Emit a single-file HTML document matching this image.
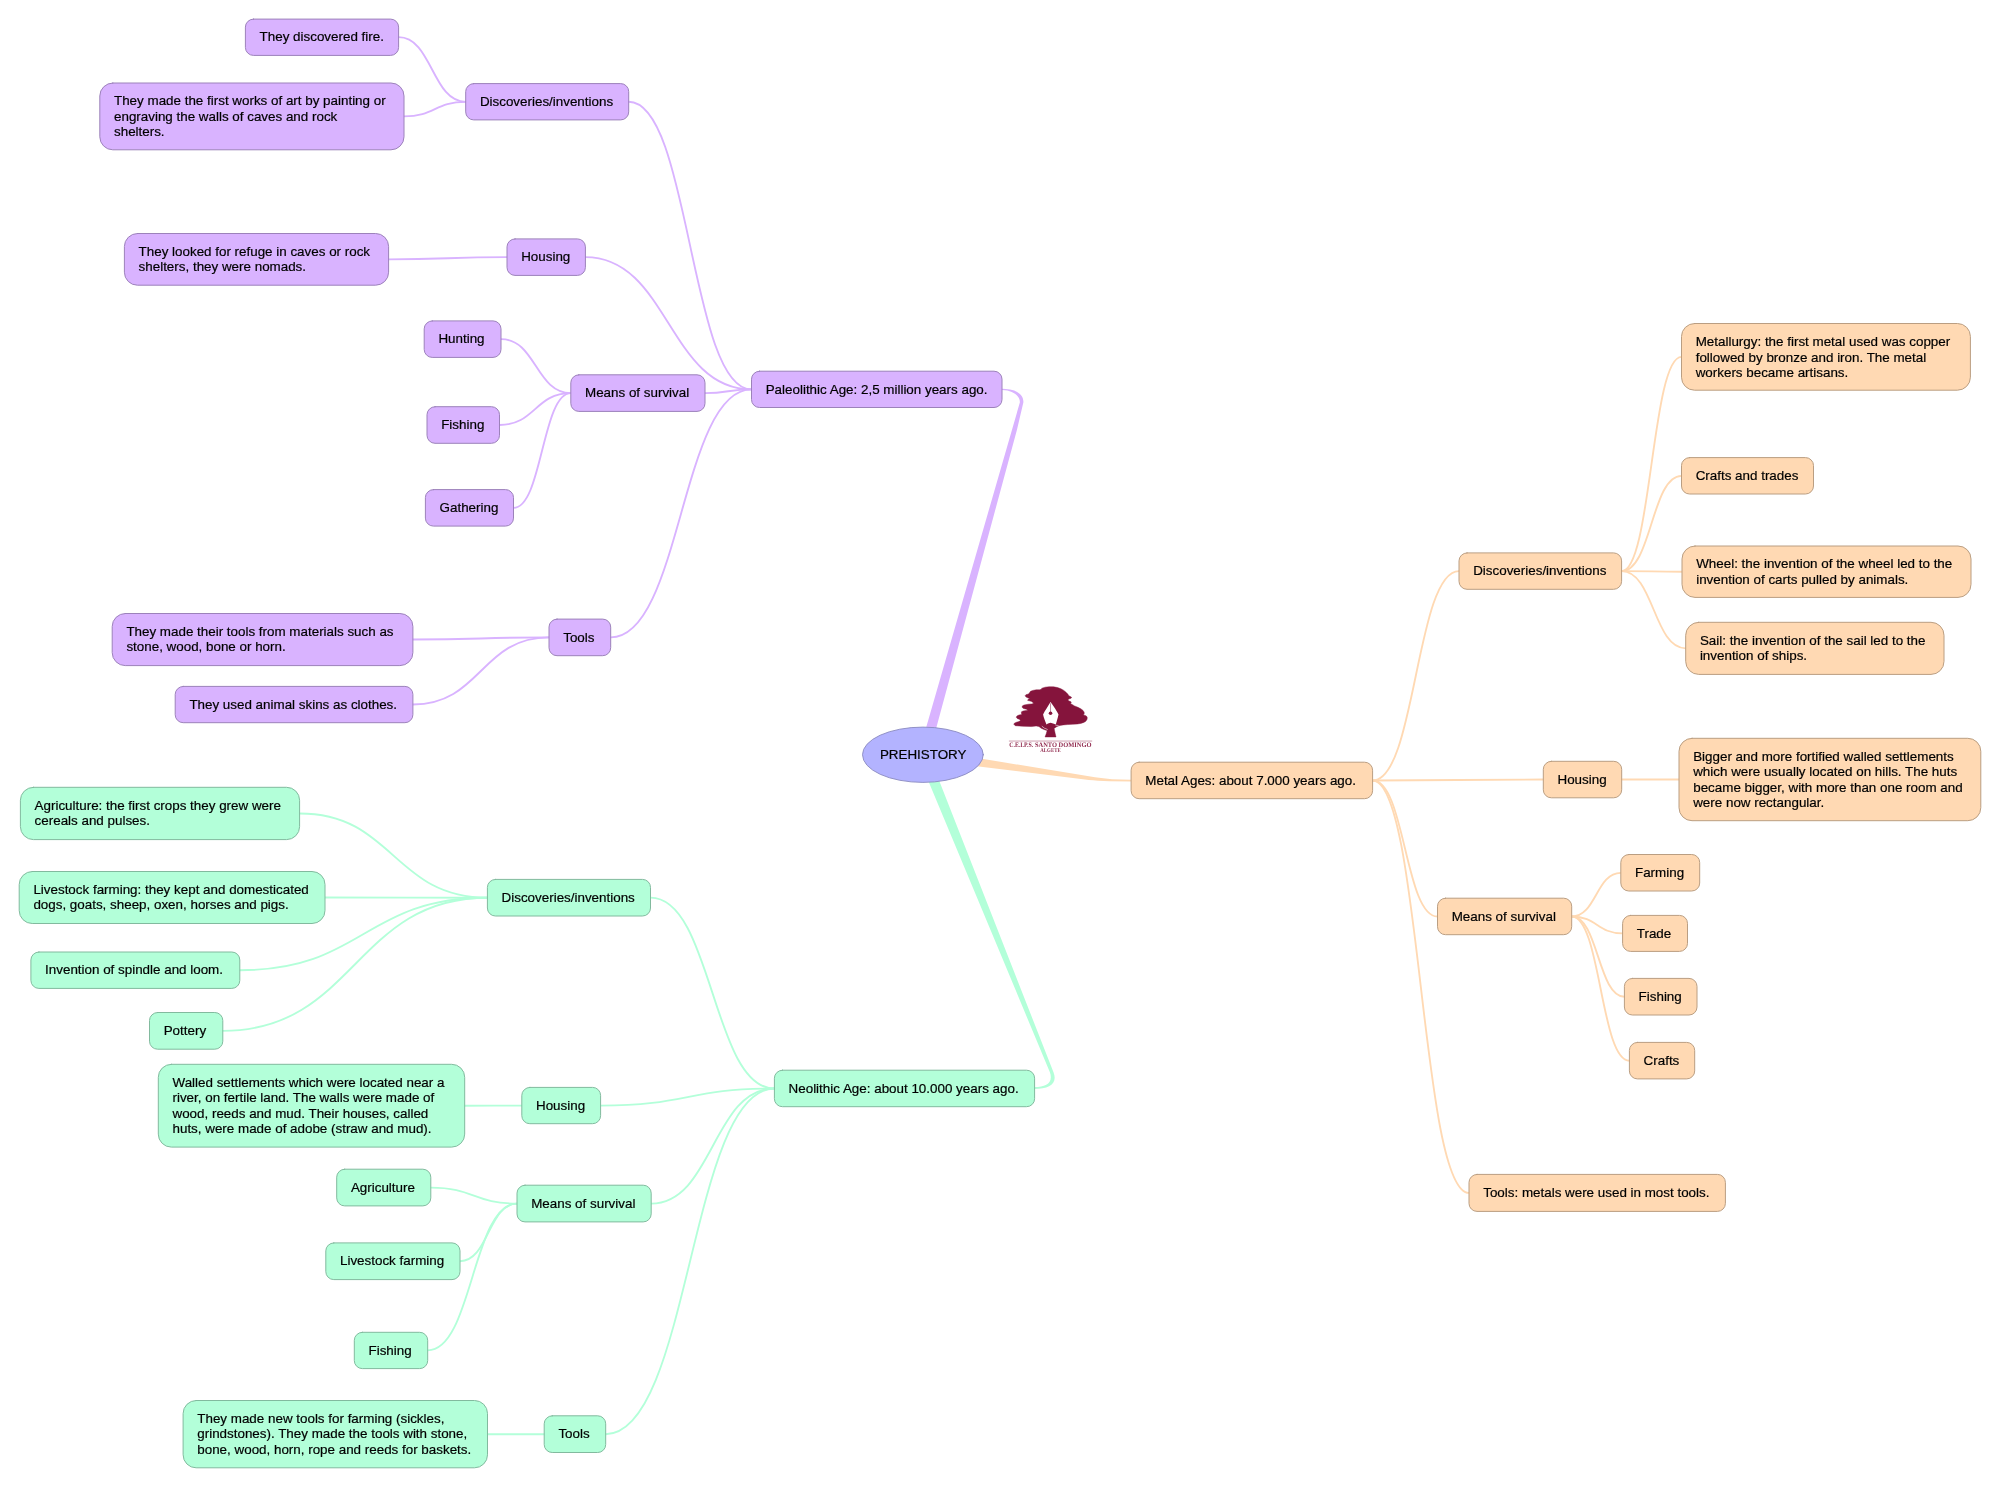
<!DOCTYPE html>
<html lang="en"><head><meta charset="utf-8"><title>PREHISTORY</title>
<style>
html,body{margin:0;padding:0;background:#fff}
#map{position:relative;width:2002px;height:1488px;overflow:hidden;background:#fff;font-family:"Liberation Sans",sans-serif;font-size:13.4px;line-height:15.45px;color:#000}
#map svg{position:absolute;left:0;top:0;will-change:transform}
#labels{position:absolute;left:0;top:0;width:2002px;height:1488px;will-change:transform}
.n{position:absolute;white-space:nowrap}
.l{-webkit-text-stroke:0.2px #000;position:absolute;left:14.2px;line-height:15px;height:15px}
#root{-webkit-text-stroke:0.2px #000;position:absolute;left:862.6px;top:726.5px;width:121.2px;height:56px;text-align:center;line-height:55px;white-space:nowrap}
.lg{font-family:"Liberation Serif",serif;font-weight:bold;fill:#85143C;text-rendering:geometricPrecision}
</style></head><body>
<div id="map">
<svg width="2002" height="1488" viewBox="0 0 2002 1488" fill="none" stroke-width="1.85" stroke-linecap="round">
<g id="branches">
<path d="M1002 388.8C1010 388.8 1023.8 391 1023.4 402.3L1016.9 430L929.2 754L918.5 754L1019.9 402.3C1019.9 396 1013 390.2 1002 390Z" fill="#D9B3FF" stroke="none"/>
<path d="M1034.6 1087C1046 1087 1053.5 1083 1049.9 1072.3L917.9 756L929.5 756L1053.5 1072.3C1058 1084 1049 1089 1034.6 1089Z" fill="#B3FFD9" stroke="none"/>
<path d="M950 753.6L1095 777.2Q1111 779.7 1131.1 779.7L1131.1 781.5Q1099 781.5 1085 779.6L950 763Z" fill="#FFD9B3" stroke="none"/>
</g>
<g id="links">
<path d="M751.5 389.4C690.1 389.4 690.1 101.8 628.7 101.8" stroke="#D9B3FF"/>
<path d="M465.7 101.8C432.1 101.8 432.1 37.2 398.6 37.2" stroke="#D9B3FF"/>
<path d="M465.7 101.8C434.9 101.8 434.9 116.4 404 116.4" stroke="#D9B3FF"/>
<path d="M751.5 389.4C668.5 389.4 668.5 257.1 585.4 257.1" stroke="#D9B3FF"/>
<path d="M507 257.1C447.8 257.1 447.8 259.4 388.6 259.4" stroke="#D9B3FF"/>
<path d="M751.5 389.4C728.2 389.4 728.2 393.1 705 393.1" stroke="#D9B3FF"/>
<path d="M570.8 393.1C535.9 393.1 535.9 339.1 501 339.1" stroke="#D9B3FF"/>
<path d="M570.8 393.1C535.1 393.1 535.1 425 499.5 425" stroke="#D9B3FF"/>
<path d="M570.8 393.1C542.1 393.1 542.1 507.9 513.5 507.9" stroke="#D9B3FF"/>
<path d="M751.5 389.4C681.1 389.4 681.1 637.4 610.7 637.4" stroke="#D9B3FF"/>
<path d="M549 637.4C480.9 637.4 480.9 639.5 412.9 639.5" stroke="#D9B3FF"/>
<path d="M549 637.4C480.9 637.4 480.9 704.5 412.9 704.5" stroke="#D9B3FF"/>
<path d="M774.4 1088.5C712.5 1088.5 712.5 897.7 650.5 897.7" stroke="#B3FFD9"/>
<path d="M487.4 897.7C393.5 897.7 393.5 813.5 299.6 813.5" stroke="#B3FFD9"/>
<path d="M487.4 897.7C406.2 897.7 406.2 897.5 325 897.5" stroke="#B3FFD9"/>
<path d="M487.4 897.7C363.6 897.7 363.6 970.2 239.8 970.2" stroke="#B3FFD9"/>
<path d="M487.4 897.7C355.1 897.7 355.1 1030.8 222.8 1030.8" stroke="#B3FFD9"/>
<path d="M774.4 1088.5C687.5 1088.5 687.5 1105.6 600.6 1105.6" stroke="#B3FFD9"/>
<path d="M521.8 1105.6C493.2 1105.6 493.2 1105.7 464.7 1105.7" stroke="#B3FFD9"/>
<path d="M774.4 1088.5C712.8 1088.5 712.8 1203.6 651.2 1203.6" stroke="#B3FFD9"/>
<path d="M517 1203.6C473.9 1203.6 473.9 1187.6 430.8 1187.6" stroke="#B3FFD9"/>
<path d="M517 1203.6C488.5 1203.6 488.5 1261.2 460 1261.2" stroke="#B3FFD9"/>
<path d="M517 1203.6C472.4 1203.6 472.4 1350.4 427.7 1350.4" stroke="#B3FFD9"/>
<path d="M774.4 1088.5C690 1088.5 690 1434.2 605.7 1434.2" stroke="#B3FFD9"/>
<path d="M544.2 1434.2C515.9 1434.2 515.9 1434.2 487.5 1434.2" stroke="#B3FFD9"/>
<path d="M1372.6 780.5C1415.8 780.5 1415.8 571.1 1459 571.1" stroke="#FFD9B3"/>
<path d="M1621.6 571.1C1651.5 571.1 1651.5 356.9 1681.5 356.9" stroke="#FFD9B3"/>
<path d="M1621.6 571.1C1651.5 571.1 1651.5 475.8 1681.5 475.8" stroke="#FFD9B3"/>
<path d="M1621.6 571.1C1651.8 571.1 1651.8 571.7 1682 571.7" stroke="#FFD9B3"/>
<path d="M1621.6 571.1C1653.7 571.1 1653.7 648.3 1685.7 648.3" stroke="#FFD9B3"/>
<path d="M1372.6 780.5C1457.9 780.5 1457.9 779.5 1543.3 779.5" stroke="#FFD9B3"/>
<path d="M1621.7 779.5C1650.3 779.5 1650.3 779.5 1679 779.5" stroke="#FFD9B3"/>
<path d="M1372.6 780.5C1405 780.5 1405 916.5 1437.5 916.5" stroke="#FFD9B3"/>
<path d="M1571.7 916.5C1596.2 916.5 1596.2 872.8 1620.8 872.8" stroke="#FFD9B3"/>
<path d="M1571.7 916.5C1597.2 916.5 1597.2 933.4 1622.6 933.4" stroke="#FFD9B3"/>
<path d="M1571.7 916.5C1598.1 916.5 1598.1 996.7 1624.4 996.7" stroke="#FFD9B3"/>
<path d="M1571.7 916.5C1600.6 916.5 1600.6 1060.7 1629.4 1060.7" stroke="#FFD9B3"/>
<path d="M1372.6 780.5C1420.8 780.5 1420.8 1192.9 1469 1192.9" stroke="#FFD9B3"/>
</g>
<ellipse cx="922.9" cy="754.75" rx="60.4" ry="27.65" fill="#B3B3FF" stroke="#8A8AC0" stroke-width=".9"/>
<g id="boxes" stroke-width="1">
<rect x="751.5" y="371.2" width="250.5" height="36.3" rx="8" fill="#D9B3FF" stroke="#9C82BA"/>
<rect x="465.7" y="83.6" width="163" height="36.3" rx="8" fill="#D9B3FF" stroke="#9C82BA"/>
<rect x="245.4" y="19.1" width="153.2" height="36.3" rx="8" fill="#D9B3FF" stroke="#9C82BA"/>
<rect x="99.8" y="83" width="304.2" height="66.8" rx="13" fill="#D9B3FF" stroke="#9C82BA"/>
<rect x="507" y="238.9" width="78.4" height="36.5" rx="8" fill="#D9B3FF" stroke="#9C82BA"/>
<rect x="124.4" y="233.5" width="264.2" height="51.7" rx="13" fill="#D9B3FF" stroke="#9C82BA"/>
<rect x="570.8" y="374.8" width="134.2" height="36.6" rx="8" fill="#D9B3FF" stroke="#9C82BA"/>
<rect x="424.2" y="320.9" width="76.8" height="36.5" rx="8" fill="#D9B3FF" stroke="#9C82BA"/>
<rect x="427" y="406.7" width="72.5" height="36.6" rx="8" fill="#D9B3FF" stroke="#9C82BA"/>
<rect x="425.4" y="489.6" width="88.1" height="36.5" rx="8" fill="#D9B3FF" stroke="#9C82BA"/>
<rect x="549" y="619.1" width="61.7" height="36.6" rx="8" fill="#D9B3FF" stroke="#9C82BA"/>
<rect x="112.2" y="613.5" width="300.7" height="52.1" rx="13" fill="#D9B3FF" stroke="#9C82BA"/>
<rect x="175.2" y="686.4" width="237.7" height="36.3" rx="8" fill="#D9B3FF" stroke="#9C82BA"/>
<rect x="774.4" y="1070.2" width="260.2" height="36.5" rx="8" fill="#B3FFD9" stroke="#82BA9E"/>
<rect x="487.4" y="879.4" width="163.1" height="36.6" rx="8" fill="#B3FFD9" stroke="#82BA9E"/>
<rect x="20.4" y="787.3" width="279.2" height="52.3" rx="13" fill="#B3FFD9" stroke="#82BA9E"/>
<rect x="19.2" y="871.5" width="305.8" height="52" rx="13" fill="#B3FFD9" stroke="#82BA9E"/>
<rect x="30.9" y="952" width="208.9" height="36.4" rx="8" fill="#B3FFD9" stroke="#82BA9E"/>
<rect x="149.5" y="1012.5" width="73.3" height="36.7" rx="8" fill="#B3FFD9" stroke="#82BA9E"/>
<rect x="521.8" y="1087.4" width="78.8" height="36.3" rx="8" fill="#B3FFD9" stroke="#82BA9E"/>
<rect x="158.3" y="1064.3" width="306.4" height="82.8" rx="13" fill="#B3FFD9" stroke="#82BA9E"/>
<rect x="517" y="1185.2" width="134.2" height="36.7" rx="8" fill="#B3FFD9" stroke="#82BA9E"/>
<rect x="336.7" y="1169.2" width="94.1" height="36.7" rx="8" fill="#B3FFD9" stroke="#82BA9E"/>
<rect x="325.8" y="1242.9" width="134.2" height="36.7" rx="8" fill="#B3FFD9" stroke="#82BA9E"/>
<rect x="354.3" y="1332.3" width="73.4" height="36.3" rx="8" fill="#B3FFD9" stroke="#82BA9E"/>
<rect x="544.2" y="1415.8" width="61.5" height="36.7" rx="8" fill="#B3FFD9" stroke="#82BA9E"/>
<rect x="183.1" y="1400.5" width="304.4" height="67.3" rx="13" fill="#B3FFD9" stroke="#82BA9E"/>
<rect x="1131.1" y="762.2" width="241.5" height="36.5" rx="8" fill="#FFD9B3" stroke="#BA9E82"/>
<rect x="1459" y="552.9" width="162.6" height="36.4" rx="8" fill="#FFD9B3" stroke="#BA9E82"/>
<rect x="1681.5" y="323.5" width="288.9" height="66.7" rx="13" fill="#FFD9B3" stroke="#BA9E82"/>
<rect x="1681.5" y="457.6" width="132" height="36.4" rx="8" fill="#FFD9B3" stroke="#BA9E82"/>
<rect x="1682" y="546" width="289" height="51.4" rx="13" fill="#FFD9B3" stroke="#BA9E82"/>
<rect x="1685.7" y="622.3" width="258.3" height="52.1" rx="13" fill="#FFD9B3" stroke="#BA9E82"/>
<rect x="1543.3" y="761.3" width="78.4" height="36.5" rx="8" fill="#FFD9B3" stroke="#BA9E82"/>
<rect x="1679" y="738.3" width="301.8" height="82.4" rx="13" fill="#FFD9B3" stroke="#BA9E82"/>
<rect x="1437.5" y="898.2" width="134.2" height="36.5" rx="8" fill="#FFD9B3" stroke="#BA9E82"/>
<rect x="1620.8" y="854.5" width="78.9" height="36.5" rx="8" fill="#FFD9B3" stroke="#BA9E82"/>
<rect x="1622.6" y="915.4" width="64.9" height="36" rx="8" fill="#FFD9B3" stroke="#BA9E82"/>
<rect x="1624.4" y="978.4" width="72.6" height="36.6" rx="8" fill="#FFD9B3" stroke="#BA9E82"/>
<rect x="1629.4" y="1042.4" width="65.3" height="36.5" rx="8" fill="#FFD9B3" stroke="#BA9E82"/>
<rect x="1469" y="1174.4" width="256.4" height="37" rx="8" fill="#FFD9B3" stroke="#BA9E82"/>
</g>
<g id="logo">
<g transform="translate(1000 676) scale(0.056465)" stroke="none">
<polygon points="745,215 800,198 870,190 950,192 1020,205 1080,228 1130,255 1170,290 1200,320 1220,350 1262,372 1268,385 1250,398 1215,408 1205,425 1215,440 1255,455 1262,470 1250,485 1270,500 1320,530 1380,555 1430,580 1470,610 1490,640 1492,665 1478,690 1510,698 1535,715 1546,740 1540,770 1520,800 1485,822 1430,840 1370,850 1280,856 1200,860 1120,866 1060,876 1010,895 975,915 960,930 965,960 975,1010 992,1080 798,1080 820,1020 835,965 800,955 730,925 690,895 640,885 560,895 400,890 270,880 245,855 255,835 290,820 335,808 362,790 350,770 305,752 288,730 300,708 335,692 385,682 378,655 380,635 410,620 465,610 492,605 470,590 415,575 392,555 395,530 425,515 500,500 560,495 592,488 585,470 560,450 520,440 490,432 495,418 525,405 500,390 460,370 445,350 460,330 505,320 520,300 540,272 580,255 640,245 700,245 730,235" fill="#85143C" stroke="#85143C" stroke-width="8" stroke-linejoin="round"/>
<polygon points="895,462 930,510 975,575 1015,640 1036,680 1025,730 1005,800 988,858 940,842 895,826 850,842 823,860 800,800 775,730 763,680 790,630 830,565 870,500" fill="#fff"/>
<path d="M895 490V640" stroke="#85143C" stroke-width="9" fill="none"/>
<circle cx="895" cy="660" r="32" fill="#85143C"/>
<path d="M745 893Q780 930 838 946M990 872Q1010 868 1035 880" stroke="#fff" stroke-width="10" fill="none"/>
</g>
<path d="M1009.3 741.05H1091.8" stroke="#85143C" stroke-opacity=".8" stroke-width=".5"/>
<text class="lg" transform="translate(1009.3 746.65) scale(.25)" font-size="27.5" stroke="none" fill-opacity=".9"><tspan x="0" textLength="96" lengthAdjust="spacingAndGlyphs">C.E.I.P.S.</tspan><tspan x="96" textLength="232.8" lengthAdjust="spacingAndGlyphs"> SANTO DOMINGO</tspan></text>
<text class="lg" transform="translate(1050.5 752) scale(.25)" font-size="23" text-anchor="middle" fill-opacity=".9" textLength="81.2" lengthAdjust="spacingAndGlyphs" stroke="none">ALGETE</text>
</g>
</svg>
<div id="labels">
<div id="root">PREHISTORY</div>
<div class="n" style="left:751.5px;top:371px;width:250.5px;height:36.3px"><div class="l" style="top:11px">Paleolithic Age: 2,5 million years ago.</div></div>
<div class="n" style="left:465.7px;top:83px;width:163px;height:36.3px"><div class="l" style="top:11px">Discoveries/inventions</div></div>
<div class="n" style="left:245.4px;top:19px;width:153.2px;height:36.3px"><div class="l" style="top:10px">They discovered fire.</div></div>
<div class="n" style="left:99.8px;top:83px;width:304.2px;height:66.8px"><div class="l" style="top:10px">They made the first works of art by painting or</div><div class="l" style="top:26px">engraving the walls of caves and rock</div><div class="l" style="top:41px">shelters.</div></div>
<div class="n" style="left:507px;top:238px;width:78.4px;height:36.5px"><div class="l" style="top:11px">Housing</div></div>
<div class="n" style="left:124.4px;top:233px;width:264.2px;height:51.7px"><div class="l" style="top:11px">They looked for refuge in caves or rock</div><div class="l" style="top:26px">shelters, they were nomads.</div></div>
<div class="n" style="left:570.8px;top:374px;width:134.2px;height:36.6px"><div class="l" style="top:11px">Means of survival</div></div>
<div class="n" style="left:424.2px;top:320px;width:76.8px;height:36.5px"><div class="l" style="top:11px">Hunting</div></div>
<div class="n" style="left:427px;top:406px;width:72.5px;height:36.6px"><div class="l" style="top:11px">Fishing</div></div>
<div class="n" style="left:425.4px;top:489px;width:88.1px;height:36.5px"><div class="l" style="top:11px">Gathering</div></div>
<div class="n" style="left:549px;top:619px;width:61.7px;height:36.6px"><div class="l" style="top:11px">Tools</div></div>
<div class="n" style="left:112.2px;top:613px;width:300.7px;height:52.1px"><div class="l" style="top:11px">They made their tools from materials such as</div><div class="l" style="top:26px">stone, wood, bone or horn.</div></div>
<div class="n" style="left:175.2px;top:686px;width:237.7px;height:36.3px"><div class="l" style="top:11px">They used animal skins as clothes.</div></div>
<div class="n" style="left:774.4px;top:1070px;width:260.2px;height:36.5px"><div class="l" style="top:11px">Neolithic Age: about 10.000 years ago.</div></div>
<div class="n" style="left:487.4px;top:879px;width:163.1px;height:36.6px"><div class="l" style="top:11px">Discoveries/inventions</div></div>
<div class="n" style="left:20.4px;top:787px;width:279.2px;height:52.3px"><div class="l" style="top:11px">Agriculture: the first crops they grew were</div><div class="l" style="top:26px">cereals and pulses.</div></div>
<div class="n" style="left:19.2px;top:871px;width:305.8px;height:52px"><div class="l" style="top:11px">Livestock farming: they kept and domesticated</div><div class="l" style="top:26px">dogs, goats, sheep, oxen, horses and pigs.</div></div>
<div class="n" style="left:30.9px;top:952px;width:208.9px;height:36.4px"><div class="l" style="top:10px">Invention of spindle and loom.</div></div>
<div class="n" style="left:149.5px;top:1012px;width:73.3px;height:36.7px"><div class="l" style="top:11px">Pottery</div></div>
<div class="n" style="left:521.8px;top:1087px;width:78.8px;height:36.3px"><div class="l" style="top:11px">Housing</div></div>
<div class="n" style="left:158.3px;top:1064px;width:306.4px;height:82.8px"><div class="l" style="top:11px">Walled settlements which were located near a</div><div class="l" style="top:26px">river, on fertile land. The walls were made of</div><div class="l" style="top:42px">wood, reeds and mud. Their houses, called</div><div class="l" style="top:57px">huts, were made of adobe (straw and mud).</div></div>
<div class="n" style="left:517px;top:1185px;width:134.2px;height:36.7px"><div class="l" style="top:11px">Means of survival</div></div>
<div class="n" style="left:336.7px;top:1169px;width:94.1px;height:36.7px"><div class="l" style="top:11px">Agriculture</div></div>
<div class="n" style="left:325.8px;top:1242px;width:134.2px;height:36.7px"><div class="l" style="top:11px">Livestock farming</div></div>
<div class="n" style="left:354.3px;top:1332px;width:73.4px;height:36.3px"><div class="l" style="top:11px">Fishing</div></div>
<div class="n" style="left:544.2px;top:1415px;width:61.5px;height:36.7px"><div class="l" style="top:11px">Tools</div></div>
<div class="n" style="left:183.1px;top:1400px;width:304.4px;height:67.3px"><div class="l" style="top:11px">They made new tools for farming (sickles,</div><div class="l" style="top:26px">grindstones). They made the tools with stone,</div><div class="l" style="top:42px">bone, wood, horn, rope and reeds for baskets.</div></div>
<div class="n" style="left:1131.1px;top:762px;width:241.5px;height:36.5px"><div class="l" style="top:11px">Metal Ages: about 7.000 years ago.</div></div>
<div class="n" style="left:1459px;top:552px;width:162.6px;height:36.4px"><div class="l" style="top:11px">Discoveries/inventions</div></div>
<div class="n" style="left:1681.5px;top:323px;width:288.9px;height:66.7px"><div class="l" style="top:11px">Metallurgy: the first metal used was copper</div><div class="l" style="top:27px">followed by bronze and iron. The metal</div><div class="l" style="top:42px">workers became artisans.</div></div>
<div class="n" style="left:1681.5px;top:457px;width:132px;height:36.4px"><div class="l" style="top:11px">Crafts and trades</div></div>
<div class="n" style="left:1682px;top:546px;width:289px;height:51.4px"><div class="l" style="top:10px">Wheel: the invention of the wheel led to the</div><div class="l" style="top:26px">invention of carts pulled by animals.</div></div>
<div class="n" style="left:1685.7px;top:622px;width:258.3px;height:52.1px"><div class="l" style="top:11px">Sail: the invention of the sail led to the</div><div class="l" style="top:26px">invention of ships.</div></div>
<div class="n" style="left:1543.3px;top:761px;width:78.4px;height:36.5px"><div class="l" style="top:11px">Housing</div></div>
<div class="n" style="left:1679px;top:738px;width:301.8px;height:82.4px"><div class="l" style="top:11px">Bigger and more fortified walled settlements</div><div class="l" style="top:26px">which were usually located on hills. The huts</div><div class="l" style="top:42px">became bigger, with more than one room and</div><div class="l" style="top:57px">were now rectangular.</div></div>
<div class="n" style="left:1437.5px;top:898px;width:134.2px;height:36.5px"><div class="l" style="top:11px">Means of survival</div></div>
<div class="n" style="left:1620.8px;top:854px;width:78.9px;height:36.5px"><div class="l" style="top:11px">Farming</div></div>
<div class="n" style="left:1622.6px;top:915px;width:64.9px;height:36px"><div class="l" style="top:11px">Trade</div></div>
<div class="n" style="left:1624.4px;top:978px;width:72.6px;height:36.6px"><div class="l" style="top:11px">Fishing</div></div>
<div class="n" style="left:1629.4px;top:1042px;width:65.3px;height:36.5px"><div class="l" style="top:11px">Crafts</div></div>
<div class="n" style="left:1469px;top:1174px;width:256.4px;height:37px"><div class="l" style="top:11px">Tools: metals were used in most tools.</div></div>
</div>
</div>
</body></html>
